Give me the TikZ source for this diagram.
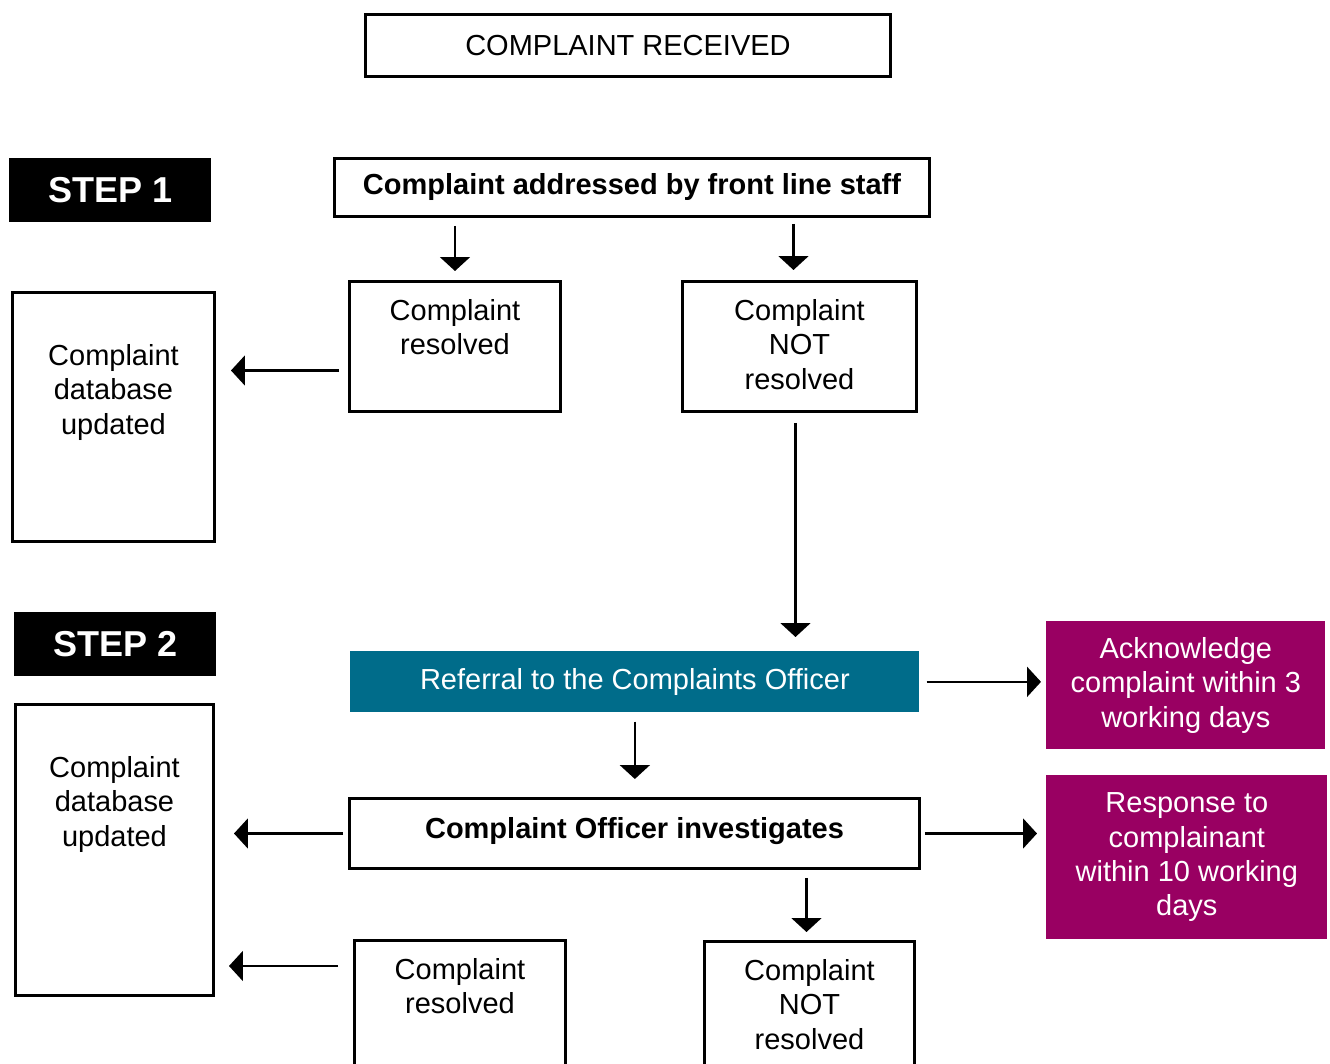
\documentclass[tikz,border=0pt]{standalone}
\usepackage{fontspec}
\setmainfont{Liberation Sans}
\usetikzlibrary{arrows.meta}

\definecolor{officeteal}{RGB}{0,108,138}
\definecolor{dayplum}{RGB}{153,0,98}

% one pixel of the layout
\newlength{\pxl}
\setlength{\pxl}{0.02cm}
% box text that sits at the top: width, height, top pad, text
\newcommand{\topbox}[4]{\parbox[c][#2\pxl][t]{#1\pxl}{\centering\vspace*{#3\pxl}#4}}

\begin{document}
\begin{tikzpicture}[x=0.02cm,y=-0.02cm,>={Triangle[width=0.6cm,length=0.28cm]}]
	
	% ------------------------------------------------------------
	% Styles
	% ------------------------------------------------------------
	\tikzset{
		cell/.style={font=\fontsize{16.5pt}{19.5pt}\selectfont,inner sep=0pt,
			anchor=north west,align=center},
		box/.style={cell,draw=black,line width=1.7pt},
		boldbox/.style={box,font=\fontsize{16.5pt}{19.5pt}\selectfont\bfseries},
		stepbox/.style={cell,fill=black,text=white,
			font=\fontsize{20.5pt}{24pt}\selectfont\bfseries},
		referral/.style={cell,fill=officeteal,text=white},
		notice/.style={cell,fill=dayplum,text=white},
		arr/.style={->,line width=1.3pt}
	}
	
	\useasboundingbox (0,0) rectangle (1330,1064);
	\clip (0,0) rectangle (1330,1064);
	
	% ============================================================
	% TOP: complaint received
	% ============================================================
	\node[box,minimum width=525\pxl,minimum height=62\pxl] (received) at (364,13)
	{COMPLAINT RECEIVED};
	
	% ============================================================
	% STEP 1: front line staff
	% ============================================================
	\node[stepbox,minimum width=202\pxl,minimum height=64\pxl] (step1) at (9,158) {STEP 1};
	\node[boldbox,minimum width=595\pxl,minimum height=58\pxl] (front) at (333,157)
	{Complaint addressed by front line staff};
	
	\node[box] (res1)    at (348,280) {\topbox{211}{130}{18}{Complaint\\resolved}};
	\node[box] (notres1) at (681,280) {\topbox{234}{130}{18}{Complaint\\NOT\\resolved}};
	\node[box] (db1)     at (11,291)  {\topbox{202}{249}{52}{Complaint\\database\\updated}};
	
	% ============================================================
	% STEP 2: complaints officer
	% ============================================================
	\node[stepbox,minimum width=202\pxl,minimum height=64\pxl] (step2) at (14,612) {STEP 2};
	\node[referral,minimum width=569\pxl,minimum height=61\pxl] (referral) at (350,651)
	{Referral to the Complaints Officer};
	\node[notice,minimum width=279\pxl,minimum height=128\pxl] (ack) at (1046,621)
	{Acknowledge\\complaint within 3\\working days};
	
	\node[boldbox,minimum width=570\pxl,minimum height=70\pxl,text depth=10\pxl] (investigate) at (348,797)
	{Complaint Officer investigates};
	\node[notice,minimum width=281\pxl,minimum height=164\pxl] (response) at (1046,775)
	{Response to\\complainant\\within 10 working\\days};
	
	\node[box] (db2)     at (14,703)  {\topbox{198}{291}{52}{Complaint\\database\\updated}};
	\node[box] (res2)    at (353,939) {\topbox{211}{140}{18}{Complaint\\resolved}};
	\node[box] (notres2) at (703,940) {\topbox{210}{140}{18}{Complaint\\NOT\\resolved}};
	
	% ============================================================
	% Arrows
	% ============================================================
	\coordinate (n1top) at ([xshift=-6\pxl]notres1.north);
	\coordinate (n1bot) at ([xshift=-4\pxl]notres1.south);
	\coordinate (r1out) at ([yshift=-24\pxl]res1.west);
	\coordinate (n2top) at ([xshift=-3\pxl]notres2.north);
	\coordinate (r2out) at ([yshift=-27\pxl]res2.north west);
	
	\draw[arr,shorten <=8\pxl,shorten >=9\pxl] (front.south -| res1.north) -- (res1.north);
	\draw[arr,shorten <=6\pxl,shorten >=10\pxl] (front.south -| n1top) -- (n1top);
	\draw[arr,shorten <=9\pxl,shorten >=15\pxl] (r1out) -- (r1out -| db1.east);
	\draw[arr,shorten <=10\pxl,shorten >=14\pxl] (n1bot) -- (n1bot |- referral.north);
	
	\draw[arr,shorten <=7\pxl,shorten >=5\pxl] (referral.east) -- (referral.east -| ack.west);
	\draw[arr,shorten <=9\pxl,shorten >=18\pxl] (referral.south) -- (referral.south |- investigate.north);
	\draw[arr,shorten <=5\pxl,shorten >=19\pxl] (investigate.west) -- (investigate.west -| db2.east);
	\draw[arr,shorten <=4\pxl,shorten >=9\pxl] (investigate.east) -- (investigate.east -| response.west);
	\draw[arr,shorten <=8\pxl,shorten >=8\pxl] (investigate.south -| n2top) -- (n2top);
	\draw[arr,shorten <=15\pxl,shorten >=14\pxl] (r2out) -- (r2out -| db2.east);
	
\end{tikzpicture}
\end{document}
